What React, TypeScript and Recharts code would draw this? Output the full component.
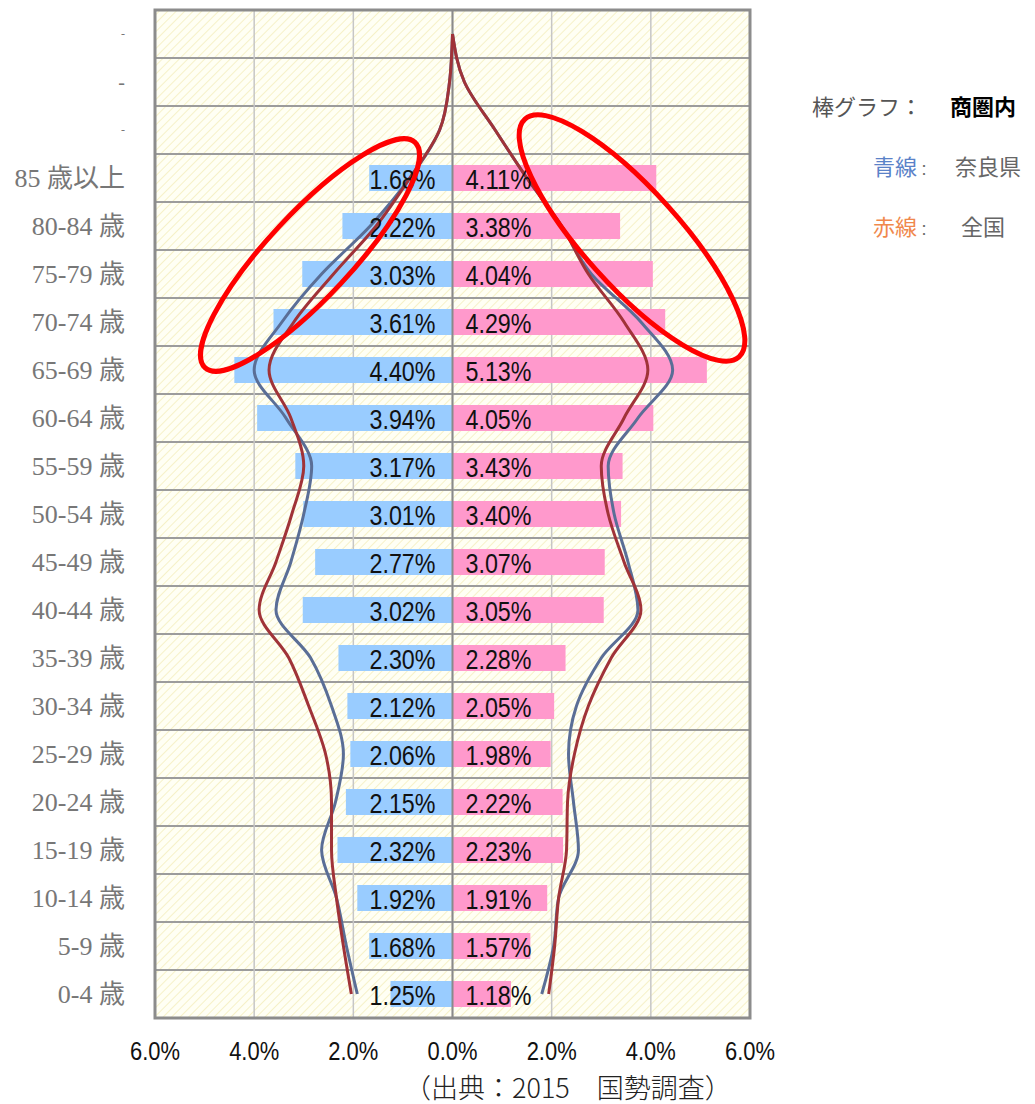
import React from 'react';
import {
  ComposedChart,
  Bar,
  Line,
  XAxis,
  YAxis,
  CartesianGrid,
  ReferenceLine,
  ReferenceArea,
  LabelList,
} from 'recharts';

// rows top -> bottom (three blank rows above 85+)
const ageLabels = [
  '-', '-', '-',
  '85 歳以上', '80-84 歳', '75-79 歳', '70-74 歳', '65-69 歳', '60-64 歳',
  '55-59 歳', '50-54 歳', '45-49 歳', '40-44 歳', '35-39 歳', '30-34 歳',
  '25-29 歳', '20-24 歳', '15-19 歳', '10-14 歳', '5-9 歳', '0-4 歳',
];

// 棒グラフ：商圏内 (left = male, right = female), from 85+ down to 0-4
const tradeAreaMale = [1.68, 2.22, 3.03, 3.61, 4.40, 3.94, 3.17, 3.01, 2.77, 3.02, 2.30, 2.12, 2.06, 2.15, 2.32, 1.92, 1.68, 1.25];
const tradeAreaFemale = [4.11, 3.38, 4.04, 4.29, 5.13, 4.05, 3.43, 3.40, 3.07, 3.05, 2.28, 2.05, 1.98, 2.22, 2.23, 1.91, 1.57, 1.18];

// 青線：奈良県, 赤線：全国 (all 21 rows)
const naraMale = [0, 0.06, 0.26, 0.86, 1.66, 2.64, 3.44, 4.0, 3.36, 2.84, 3.0, 3.26, 3.56, 2.86, 2.44, 2.2, 2.36, 2.64, 2.34, 2.14, 1.92];
const naraFemale = [0, 0.24, 0.86, 1.5, 2.2, 2.8, 3.8, 4.44, 3.74, 3.14, 3.26, 3.54, 3.74, 3.0, 2.5, 2.34, 2.44, 2.54, 2.14, 2.04, 1.8];
const japanMale = [0, 0.06, 0.26, 0.86, 1.54, 2.4, 3.2, 3.7, 3.26, 3.0, 3.24, 3.56, 3.9, 3.3, 2.9, 2.56, 2.44, 2.44, 2.34, 2.2, 2.04];
const japanFemale = [0, 0.24, 0.86, 1.5, 2.2, 2.74, 3.46, 3.94, 3.46, 3.0, 3.14, 3.46, 3.8, 3.2, 2.74, 2.46, 2.32, 2.3, 2.14, 2.06, 1.94];

const xTicks = [-6, -4, -2, 0, 2, 4, 6];

const BLANK = 3;
const data = ageLabels.map((label, i) => ({
  key: `r${i}`,
  label,
  male: i < BLANK ? null : -tradeAreaMale[i - BLANK],
  female: i < BLANK ? null : tradeAreaFemale[i - BLANK],
  naraM: -naraMale[i],
  naraF: naraFemale[i],
  japanM: -japanMale[i],
  japanF: japanFemale[i],
}));

const SANS = '"Liberation Sans", Arial, sans-serif';
const JP = '"Noto Sans CJK JP", "Noto Sans", sans-serif';

const pct = (v: number) => `${Math.abs(v).toFixed(2)}%`;

const AgeTick = (props: any) => {
  const { x, y, payload } = props;
  const label = ageLabels[payload.index] ?? '';
  const blank = payload.index < BLANK;
  return (
    <text
      x={x}
      y={y}
      textAnchor="end"
      dominantBaseline="central"
      fill="#777"
      fontSize={blank ? (payload.index === 1 ? 20 : 12) : 26}
      fontFamily={'"Liberation Serif", "DejaVu Serif", "Noto Sans CJK JP", serif'}
    >
      {label}
    </text>
  );
};

// condensed percent text, squeezed like the narrow font of the original
const PctTick = (props: any) => {
  const { x, y, payload } = props;
  return (
    <text x={x} y={y + 30} textAnchor="middle" fill="#111" fontSize={26} fontFamily={SANS} textLength={50} lengthAdjust="spacingAndGlyphs">
      {`${Math.abs(payload.value).toFixed(1)}%`}
    </text>
  );
};

const LeftLabel = (props: any) => {
  const { x, y, width, height, value } = props;
  if (value == null) return null;
  const edge = Math.max(x, x + width);
  return (
    <text x={edge - 17} y={y + height / 2 + 1} textAnchor="end" dominantBaseline="central" fill="#111" fontSize={28} fontFamily={SANS} textLength={66} lengthAdjust="spacingAndGlyphs">
      {pct(value)}
    </text>
  );
};

const RightLabel = (props: any) => {
  const { x, y, width, height, value } = props;
  if (value == null) return null;
  const edge = Math.min(x, x + width);
  return (
    <text x={edge + 13} y={y + height / 2 + 1} textAnchor="start" dominantBaseline="central" fill="#111" fontSize={28} fontFamily={SANS} textLength={66} lengthAdjust="spacingAndGlyphs">
      {pct(value)}
    </text>
  );
};

const rowLines = ({ offset }: any) => {
  const top = offset?.top ?? 10;
  const h = offset?.height ?? 1008;
  return Array.from({ length: ageLabels.length + 1 }, (_, i) => top + (i * h) / ageLabels.length);
};

export default function App() {
  return (
    <div style={{ position: 'absolute', left: 0, top: 0, width: 1035, height: 1104, background: '#fff' }}>
      <ComposedChart
        width={1035}
        height={1104}
        data={data}
        layout="vertical"
        stackOffset="sign"
        margin={{ top: 10, right: 285, bottom: 46, left: 5 }}
        barCategoryGap={0}
      >
        <defs>
          <pattern id="hatch" width="6" height="6" patternUnits="userSpaceOnUse" patternTransform="rotate(45)">
            <rect width="6" height="6" fill="#fffff4" />
            <line x1="0" y1="0" x2="0" y2="6" stroke="#f6f1c8" strokeWidth="2" />
          </pattern>
        </defs>
        <CartesianGrid vertical={false} horizontalCoordinatesGenerator={rowLines} stroke="#9c9c9c" strokeWidth={2} fill="url(#hatch)" />
        <CartesianGrid horizontal={false} stroke="#c6c6c6" strokeWidth={1.5} />
        <ReferenceLine x={0} stroke="#8a8a8a" strokeWidth={2} />
        <XAxis
          type="number"
          domain={[-6, 6]}
          ticks={xTicks}
          axisLine={false}
          tickLine={false}
          tickMargin={6}
          height={40}
          tick={<PctTick />}
        />
        <YAxis
          type="category"
          dataKey="key"
          width={150}
          axisLine={false}
          tickLine={false}
          tickMargin={24}
          interval={0}
          tick={<AgeTick />}
        />
        <Bar dataKey="male" stackId="a" barSize={26} fill="#99ccff" isAnimationActive={false}>
          <LabelList dataKey="male" content={<LeftLabel />} />
        </Bar>
        <Bar dataKey="female" stackId="a" barSize={26} fill="#ff99cc" isAnimationActive={false}>
          <LabelList dataKey="female" content={<RightLabel />} />
        </Bar>
        <Line dataKey="naraM" type="monotone" stroke="#5a6e96" strokeWidth={3} dot={false} activeDot={false} isAnimationActive={false} />
        <Line dataKey="naraF" type="monotone" stroke="#5a6e96" strokeWidth={3} dot={false} activeDot={false} isAnimationActive={false} />
        <Line dataKey="japanM" type="monotone" stroke="#a03338" strokeWidth={3} dot={false} activeDot={false} isAnimationActive={false} />
        <Line dataKey="japanF" type="monotone" stroke="#a03338" strokeWidth={3} dot={false} activeDot={false} isAnimationActive={false} />
        <ReferenceArea x1={-6} x2={6} fill="none" stroke="#8c8c8c" strokeWidth={3} />
      </ComposedChart>

      {/* hand-drawn emphasis ellipses */}
      <svg width={1035} height={1104} style={{ position: 'absolute', left: 0, top: 0, pointerEvents: 'none' }}>
        <ellipse cx={310} cy={255} rx={154} ry={42} transform="rotate(-47 310 255)" fill="none" stroke="#ff0000" strokeWidth={5} />
        <ellipse cx={632} cy={238} rx={160} ry={48} transform="rotate(48 632 238)" fill="none" stroke="#ff0000" strokeWidth={5} />
      </svg>

      <div style={{ position: 'absolute', left: 812, top: 90, fontFamily: JP, fontSize: 22, color: '#555', whiteSpace: 'nowrap', lineHeight: '30px' }}>
        棒グラフ：<span style={{ color: '#000', fontWeight: 700, marginLeft: 28 }}>商圏内</span>
      </div>
      <div style={{ position: 'absolute', left: 873, top: 150, fontFamily: JP, fontSize: 22, color: '#666', whiteSpace: 'nowrap', lineHeight: '30px' }}>
        <span style={{ color: '#5b82c8' }}>青線</span><span style={{ fontSize: 14 }}>：</span>
        <span style={{ marginLeft: 24 }}>奈良県</span>
      </div>
      <div style={{ position: 'absolute', left: 873, top: 210, fontFamily: JP, fontSize: 22, color: '#666', whiteSpace: 'nowrap', lineHeight: '30px' }}>
        <span style={{ color: '#f0884c' }}>赤線</span><span style={{ fontSize: 14 }}>：</span>
        <span style={{ marginLeft: 30 }}>全国</span>
      </div>
      <div style={{ position: 'absolute', left: 404, top: 1070, fontFamily: JP, fontSize: 27, color: '#222', whiteSpace: 'nowrap', lineHeight: '34px', fontWeight: 300 }}>
        （出典：2015　国勢調査）
      </div>
    </div>
  );
}
